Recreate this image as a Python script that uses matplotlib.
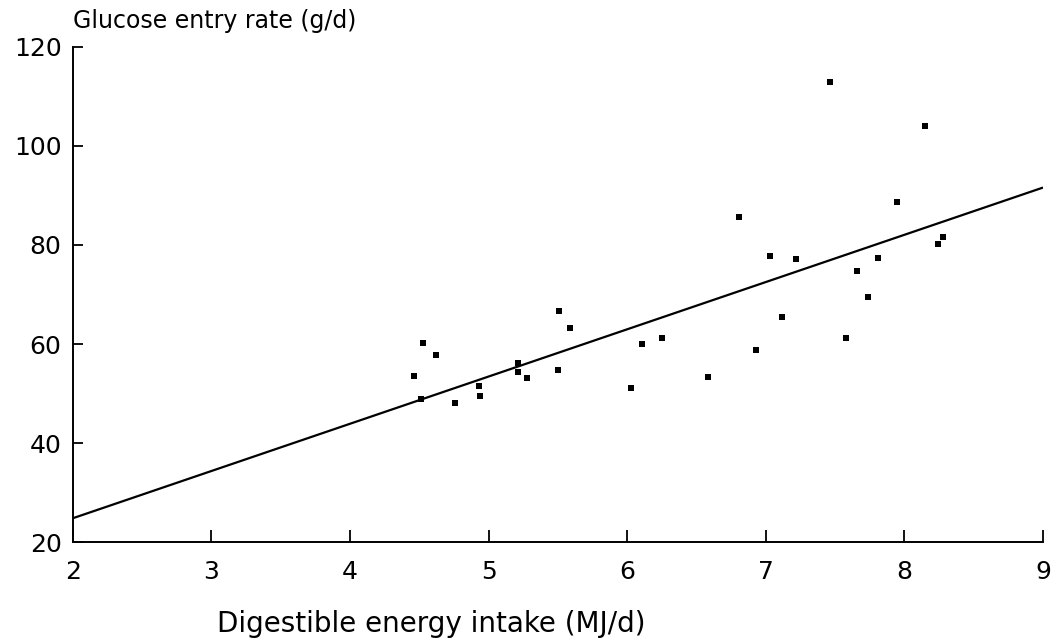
#!/usr/bin/env python3
"""Glucose entry rate vs digestible energy intake, scatter with regression line."""

import matplotlib
matplotlib.use("Agg")
import matplotlib.pyplot as plt

# data
energy_intake = [4.46, 4.51, 4.53, 4.62, 4.76, 4.93, 4.94, 5.21, 5.21, 5.28,
                 5.50, 5.51, 5.59, 6.03, 6.11, 6.25, 6.58, 6.81, 6.93, 7.03,
                 7.12, 7.22, 7.46, 7.58, 7.66, 7.74, 7.81, 7.95, 8.15, 8.24,
                 8.28]
glucose_rate = [53.5, 48.9, 60.3, 57.8, 48.0, 51.5, 49.4, 56.2, 54.4, 53.2,
                54.7, 66.6, 63.2, 51.1, 60.1, 61.3, 53.4, 85.7, 58.8, 77.8,
                65.5, 77.1, 113.0, 61.3, 74.7, 69.4, 77.4, 88.6, 104.1, 80.1,
                81.7]

# regression line end points
fit_x = [2, 9]
fit_y = [24.8, 91.6]

x_ticks = [2, 3, 4, 5, 6, 7, 8, 9]
y_ticks = [20, 40, 60, 80, 100, 120]

plt.rcParams['font.family'] = ['DejaVu Sans']

fig = plt.figure(figsize=(10.6, 6.43), dpi=100)
ax = fig.add_axes([0.0686, 0.157, 0.9154, 0.770])

ax.plot(fit_x, fit_y, color='black', linewidth=1.6, solid_capstyle='butt')
ax.scatter(energy_intake, glucose_rate, marker='s', s=14, color='black',
           linewidths=0, zorder=3)

ax.set_xlim(2, 9)
ax.set_ylim(20, 120)
ax.set_xticks(x_ticks)
ax.set_yticks(y_ticks)
ax.tick_params(axis='both', direction='in', width=1.3,
               labelsize=18, color='black')
ax.tick_params(axis='x', length=9, pad=13)
ax.tick_params(axis='y', length=7, pad=8)

for side in ('top', 'right'):
    ax.spines[side].set_visible(False)
for side in ('left', 'bottom'):
    ax.spines[side].set_linewidth(1.4)

fig.text(0.0686, 0.968, 'Glucose entry rate (g/d)', fontsize=17,
         ha='left', va='center')
fig.text(0.407, 0.030, 'Digestible energy intake (MJ/d)', fontsize=20,
         ha='center', va='center')

plt.savefig('out.png', dpi=100)
